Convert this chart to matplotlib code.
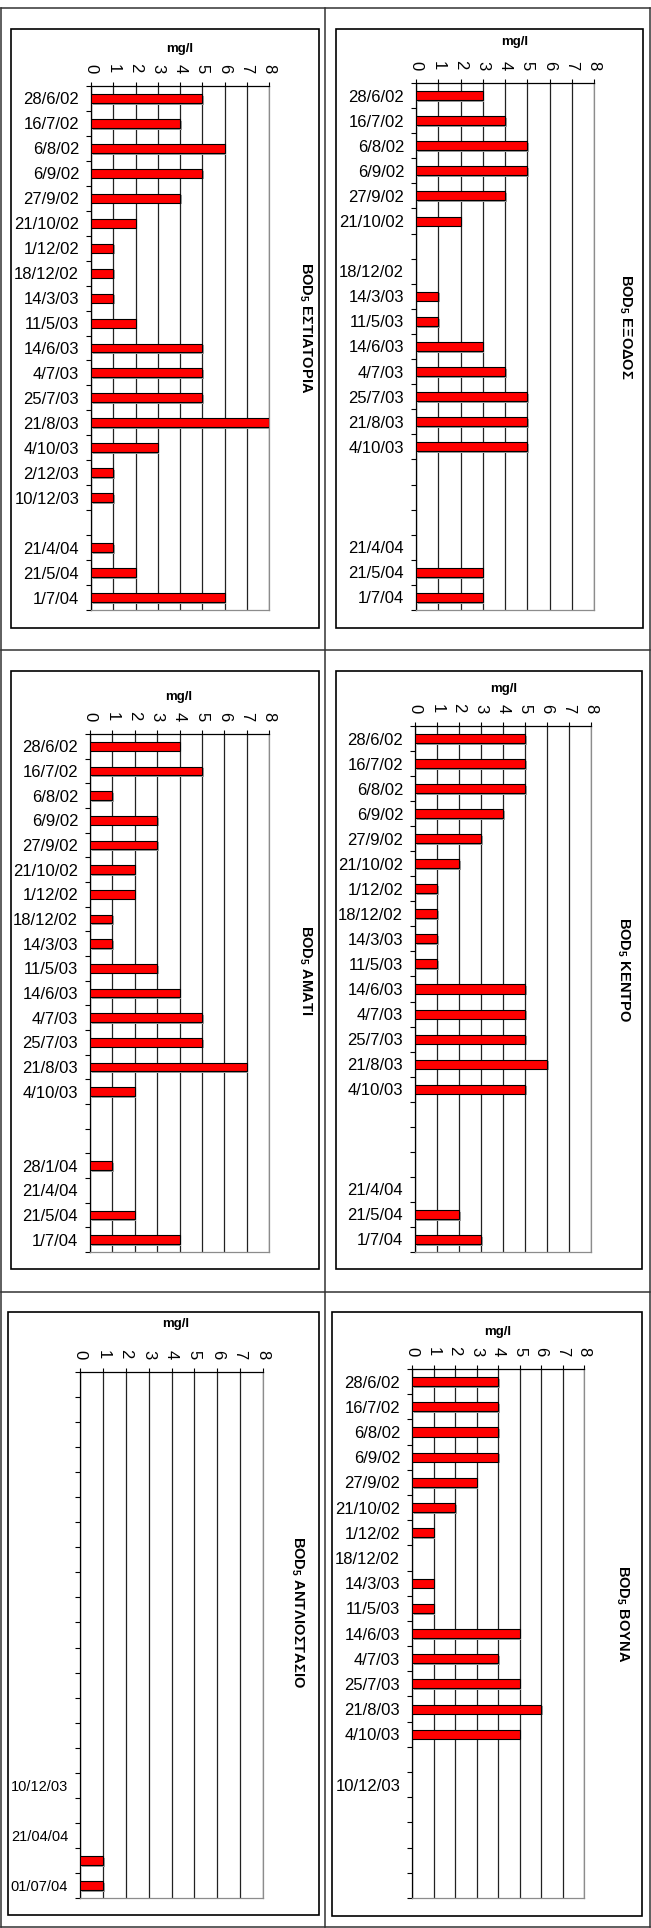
import numpy as np
import matplotlib
matplotlib.use("Agg")
from matplotlib import pyplot as plt
from matplotlib import patheffects
from matplotlib.lines import Line2D
from matplotlib.patches import Rectangle

plt.rcParams['font.family'] = ['Liberation Sans', 'DejaVu Sans']
plt.rcParams['mathtext.fontset'] = 'custom'
plt.rcParams['mathtext.rm'] = 'Liberation Sans'
plt.rcParams['mathtext.bf'] = 'Liberation Sans:bold'

W, H = 651, 1928

# ---- data (mg/l), None = no measurement ----
estiatoria_dates = ["28/6/02", "16/7/02", "6/8/02", "6/9/02", "27/9/02", "21/10/02", "1/12/02",
                    "18/12/02", "14/3/03", "11/5/03", "14/6/03", "4/7/03", "25/7/03", "21/8/03",
                    "4/10/03", "2/12/03", "10/12/03", "", "21/4/04", "21/5/04", "1/7/04"]
estiatoria_bod = [5, 4, 6, 5, 4, 2, 1, 1, 1, 2, 5, 5, 5, 8, 3, 1, 1, None, 1, 2, 6]

eksodos_dates = ["28/6/02", "16/7/02", "6/8/02", "6/9/02", "27/9/02", "21/10/02", "",
                 "18/12/02", "14/3/03", "11/5/03", "14/6/03", "4/7/03", "25/7/03", "21/8/03",
                 "4/10/03", "", "", "", "21/4/04", "21/5/04", "1/7/04"]
eksodos_bod = [3, 4, 5, 5, 4, 2, None, None, 1, 1, 3, 4, 5, 5, 5, None, None, None, None, 3, 3]

amati_dates = ["28/6/02", "16/7/02", "6/8/02", "6/9/02", "27/9/02", "21/10/02", "1/12/02",
               "18/12/02", "14/3/03", "11/5/03", "14/6/03", "4/7/03", "25/7/03", "21/8/03",
               "4/10/03", "", "", "28/1/04", "21/4/04", "21/5/04", "1/7/04"]
amati_bod = [4, 5, 1, 3, 3, 2, 2, 1, 1, 3, 4, 5, 5, 7, 2, None, None, 1, None, 2, 4]

kentro_dates = ["28/6/02", "16/7/02", "6/8/02", "6/9/02", "27/9/02", "21/10/02", "1/12/02",
                "18/12/02", "14/3/03", "11/5/03", "14/6/03", "4/7/03", "25/7/03", "21/8/03",
                "4/10/03", "", "", "", "21/4/04", "21/5/04", "1/7/04"]
kentro_bod = [5, 5, 5, 4, 3, 2, 1, 1, 1, 1, 5, 5, 5, 6, 5, None, None, None, None, 2, 3]

antlio_dates = [""] * 16 + ["10/12/03", "", "21/04/04", "", "01/07/04"]
antlio_bod = [None] * 19 + [1, 1]

vouna_dates = ["28/6/02", "16/7/02", "6/8/02", "6/9/02", "27/9/02", "21/10/02", "1/12/02",
               "18/12/02", "14/3/03", "11/5/03", "14/6/03", "4/7/03", "25/7/03", "21/8/03",
               "4/10/03", "", "10/12/03", "", "", "", ""]
vouna_bod = [4, 4, 4, 4, 3, 2, 1, None, 1, 1, 5, 4, 5, 6, 5, None, None, None, None, None, None]

titles = [r"BOD$_\mathbf{5}$ ΕΣΤΙΑΤΟΡΙΑ", r"BOD$_\mathbf{5}$ ΕΞΟΔΟΣ",
          r"BOD$_\mathbf{5}$ ΑΜΑΤΙ", r"BOD$_\mathbf{5}$ ΚΕΝΤΡΟ",
          r"BOD$_\mathbf{5}$ ΑΝΤΛΙΟΣΤΑΣΙΟ", r"BOD$_\mathbf{5}$ ΒΟΥΝΑ"]
x_ticks = list(range(0, 9))

panels = [
    (estiatoria_dates, estiatoria_bod),
    (eksodos_dates, eksodos_bod),
    (amati_dates, amati_bod),
    (kentro_dates, kentro_bod),
    (antlio_dates, antlio_bod),
    (vouna_dates, vouna_bod),
]

# layout in pixels: axes box, chart frame, title centre, unit label centre, date font size
layout = [
    dict(ax=(91, 86, 269, 610), frame=(11, 29, 319, 628), title=(305, 328), unit=(180, 49), fs=12),
    dict(ax=(416, 83, 594, 610), frame=(336, 29, 643, 628), title=(625, 327), unit=(515, 42), fs=12),
    dict(ax=(90, 734, 269, 1252), frame=(11, 671, 319, 1269), title=(305, 970), unit=(179, 697), fs=12),
    dict(ax=(415, 726, 591, 1252), frame=(336, 671, 642, 1269), title=(623, 970), unit=(504, 689), fs=12),
    dict(ax=(80, 1372, 263, 1898), frame=(8, 1312, 319, 1915), title=(297, 1612), unit=(176, 1324), fs=10.5),
    dict(ax=(412, 1369, 584, 1898), frame=(332, 1312, 642, 1916), title=(622, 1614), unit=(498, 1332), fs=12),
]


def px_rect(x0, y0, x1, y1):
    return [x0 / W, 1 - y1 / H, (x1 - x0) / W, (y1 - y0) / H]


fig = plt.figure(figsize=(W / 100, H / 100), dpi=100)
fig.patch.set_facecolor('white')

# outer table lines
for x in (1, 325, 649.5):
    fig.add_artist(Line2D([x / W, x / W], [1 - 8 / H, 1 - 1927 / H], color='#333333', lw=1.1))
for y in (8, 650, 1292, 1927):
    fig.add_artist(Line2D([1 / W, 649.5 / W], [1 - y / H, 1 - y / H], color='#333333', lw=1.1))

shadow = [patheffects.SimplePatchShadow(offset=(1.2, -1.2), shadow_rgbFace='#9a9a9a', alpha=1.0),
          patheffects.Normal()]

for (dates, vals), title, lay in zip(panels, titles, layout):
    fx0, fy0, fx1, fy1 = lay['frame']
    fr = px_rect(fx0, fy0, fx1, fy1)
    fig.add_artist(Rectangle((fr[0], fr[1]), fr[2], fr[3], transform=fig.transFigure,
                             fill=False, edgecolor='black', lw=1.2))

    ax = fig.add_axes(px_rect(*lay['ax']))
    n = len(dates)
    pos = np.arange(n)
    idx = [i for i, v in enumerate(vals) if v is not None]
    bars = ax.barh([pos[i] for i in idx], [vals[i] for i in idx], height=0.36,
                   color='#ff0000', edgecolor='black', linewidth=0.8, zorder=3)
    for b in bars:
        b.set_path_effects(shadow)

    ax.set_xlim(0, 8)
    ax.set_ylim(n - 0.5, -0.5)
    ax.set_axisbelow(True)
    ax.grid(axis='x', color='#222222', lw=0.9)

    ax.set_xticks(x_ticks)
    ax.set_xticklabels([str(t) for t in x_ticks])
    ax.tick_params(axis='x', top=True, bottom=False, labeltop=True, labelbottom=False,
                   labelrotation=270, direction='out', length=3, width=0.8, pad=6.5,
                   labelsize=12, colors='black')

    ax.set_yticks(pos)
    ax.set_yticklabels(dates)
    ax.set_yticks(np.arange(n + 1) - 0.5, minor=True)
    ax.tick_params(axis='y', which='major', length=0, pad=8.5, labelsize=lay['fs'])
    ax.tick_params(axis='y', which='minor', direction='out', length=3.5, width=0.8)

    ax.spines['left'].set_color('black')
    ax.spines['top'].set_color('black')
    ax.spines['right'].set_color('#8c8c8c')
    ax.spines['bottom'].set_color('#8c8c8c')
    for s in ax.spines.values():
        s.set_linewidth(0.9)

    ux, uy = lay['unit']
    fig.text(ux / W, 1 - uy / H, "mg/l", ha='center', va='center', fontsize=9.5, fontweight='bold')
    tx, ty = lay['title']
    fig.text(tx / W, 1 - ty / H, title, ha='center', va='center', rotation=270,
             fontsize=10.5, fontweight='bold')

fig.savefig("out.png", dpi=100, facecolor='white')
